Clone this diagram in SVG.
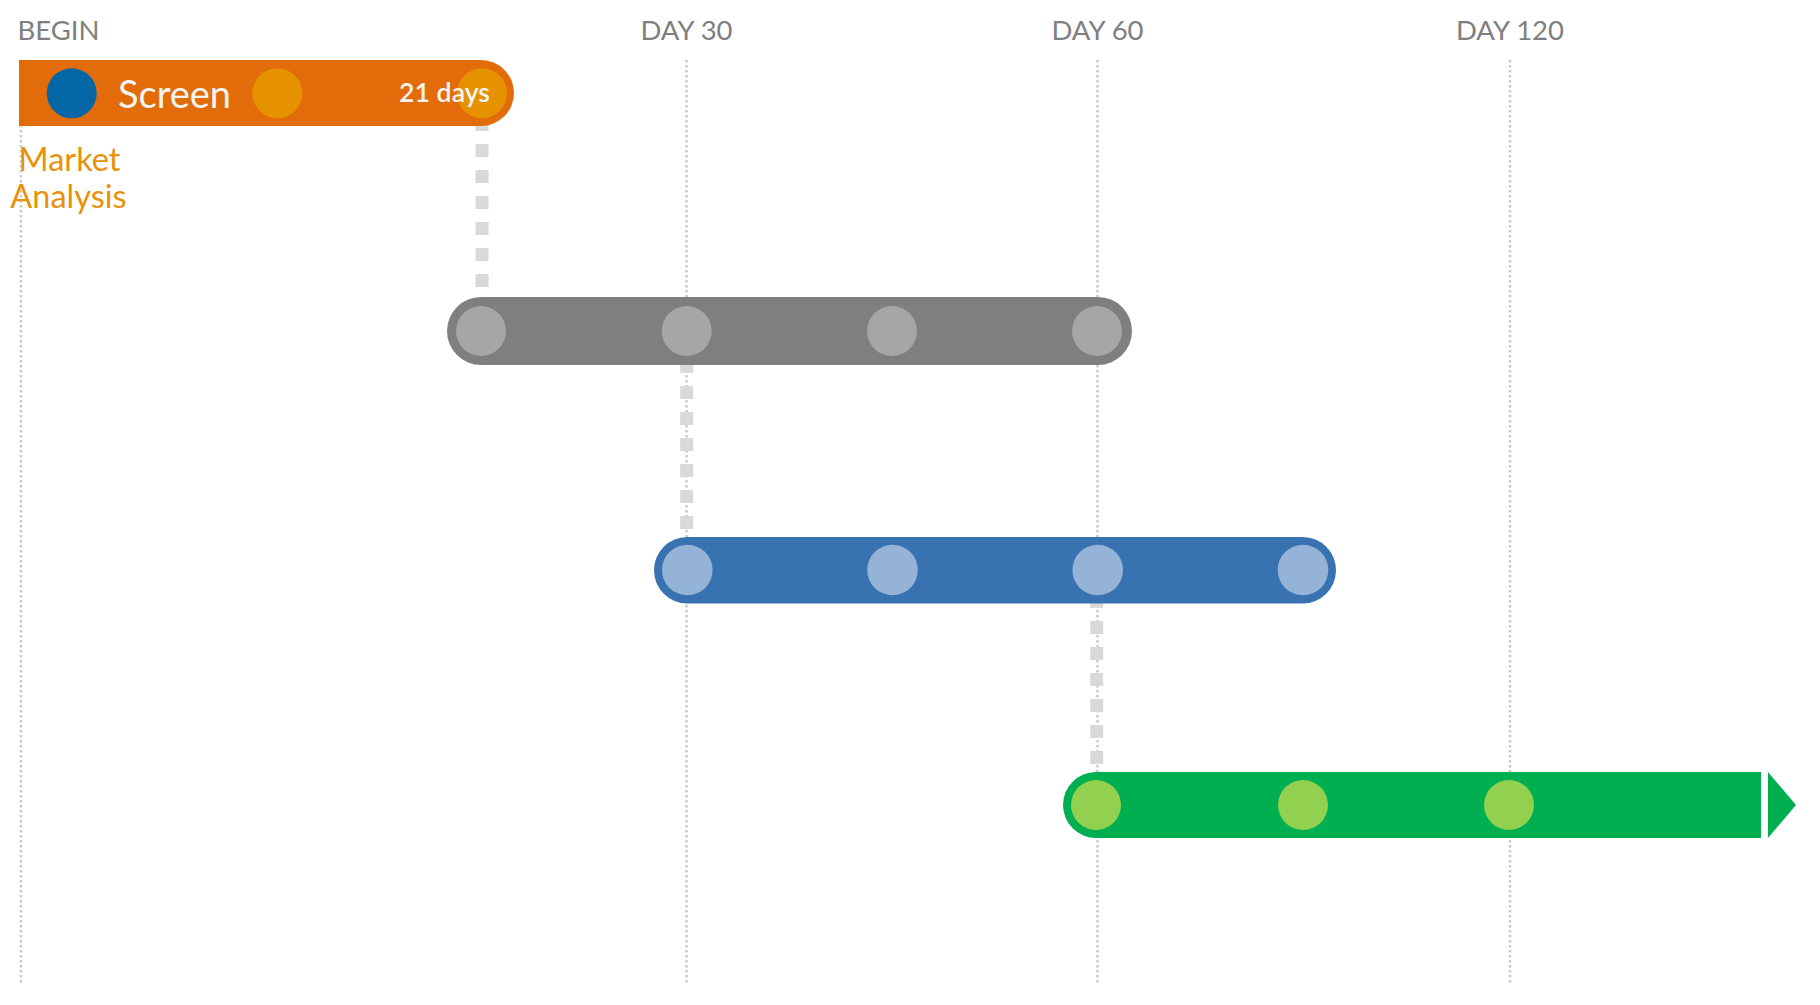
<svg xmlns="http://www.w3.org/2000/svg" width="1820" height="1005" viewBox="0 0 1820 1005">
<style>
.axis{font-family:Lato,"Noto Sans","DejaVu Sans",sans-serif;font-size:27.5px;fill:#7f7f7f;text-anchor:middle}
.grid{stroke:#cacaca;stroke-width:2.5;stroke-dasharray:2.5 2.5;fill:none}
.conn{stroke:#d9d9d9;stroke-width:13;stroke-dasharray:13 13;fill:none}
.lbl{font-family:Lato,"Noto Sans","DejaVu Sans",sans-serif;fill:#f4f4f4}
</style>
<rect width="1820" height="1005" fill="#ffffff"/>
<g id="grid">
<line class="grid" x1="21" y1="60" x2="21" y2="985"/>
<line class="grid" x1="686.5" y1="60" x2="686.5" y2="985"/>
<line class="grid" x1="1097.5" y1="60" x2="1097.5" y2="985"/>
<line class="grid" x1="1510" y1="60" x2="1510" y2="985"/>
<text class="axis" x="58.5" y="40">BEGIN</text>
<text class="axis" x="686.5" y="40">DAY 30</text>
<text class="axis" x="1097.5" y="40">DAY 60</text>
<text class="axis" x="1510" y="40">DAY 120</text>
</g>
<g id="connectors">
<line class="conn" x1="482" y1="118" x2="482" y2="297"/>
<line class="conn" x1="686.7" y1="360" x2="686.7" y2="537"/>
<line class="conn" x1="1096.7" y1="595" x2="1096.7" y2="772"/>
</g>
<g id="screen">
<path d="M19,60 H481 A33,33 0 0 1 481,126 H19 Z" fill="#e36c0a"/>
<circle cx="71.7" cy="93.3" r="25" fill="#0566a6"/>
<text class="lbl" x="118" y="107.5" font-size="38">Screen</text>
<circle cx="277.3" cy="93.3" r="25" fill="#e69200"/>
<circle cx="482" cy="93.3" r="25" fill="#e69200"/>
<text class="lbl" x="399" y="101.7" font-size="27" font-weight="600" fill="#ffffff" textLength="91" lengthAdjust="spacingAndGlyphs">21 days</text>
</g>
<g id="market-analysis">
<text font-family="Lato,'Noto Sans','DejaVu Sans',sans-serif" font-size="32.5" fill="#e8920a" text-anchor="middle"><tspan x="69.5" y="170.7">Market</tspan><tspan x="68.5" y="208">Analysis</tspan></text>
</g>
<g id="phase-gray">
<rect x="447" y="297" width="685" height="68" rx="34" fill="#7f7f7f"/>
<g fill="#a6a6a6">
<circle cx="481" cy="331" r="25"/>
<circle cx="686.7" cy="331" r="25"/>
<circle cx="892" cy="331" r="25"/>
<circle cx="1097" cy="331" r="25"/>
</g>
</g>
<g id="phase-blue">
<rect x="654" y="537" width="682" height="66.5" rx="33.25" fill="#3872b0"/>
<g fill="#95b3d7">
<circle cx="687.3" cy="570" r="25.3"/>
<circle cx="892.5" cy="570" r="25.3"/>
<circle cx="1097.7" cy="570" r="25.3"/>
<circle cx="1303" cy="570" r="25.3"/>
</g>
</g>
<g id="phase-green">
<path d="M1096,772 H1761 V838 H1096 A33,33 0 0 1 1096,772 Z" fill="#00b050"/>
<polygon points="1768,772 1796,805 1768,838" fill="#00b050"/>
<g fill="#92d050">
<circle cx="1096" cy="805" r="25"/>
<circle cx="1303" cy="805" r="25"/>
<circle cx="1509" cy="805" r="25"/>
</g>
</g>
</svg>
